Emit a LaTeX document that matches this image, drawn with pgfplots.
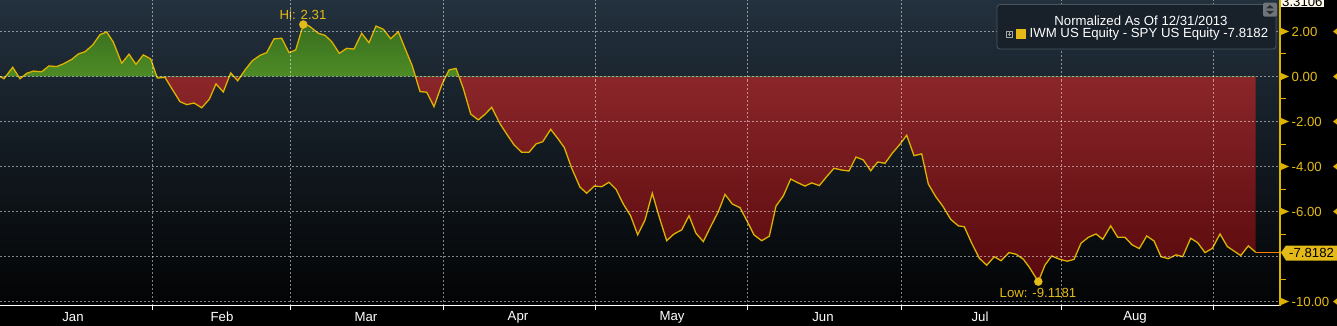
\documentclass[border=0pt]{standalone}
\usepackage{fontspec}
\setmainfont{Liberation Sans}
\usepackage{pgfplots}
\usepackage{pgfplotstable}
\pgfplotsset{compat=1.18}

\definecolor{gold}{RGB}{222,178,0}
\definecolor{lbl}{RGB}{228,186,24}
\definecolor{bgtop}{RGB}{35,49,62}
\definecolor{bgbot}{RGB}{2,3,4}
\definecolor{gtop}{RGB}{56,110,30}
\definecolor{gbot}{RGB}{78,140,38}
\definecolor{rtop}{RGB}{139,38,42}
\definecolor{rbot}{RGB}{88,9,12}
\definecolor{legbg}{RGB}{24,32,41}
\definecolor{legbd}{RGB}{75,85,95}
\definecolor{icon}{RGB}{110,116,122}
\definecolor{icondk}{RGB}{40,45,50}
\definecolor{cream}{RGB}{255,250,235}

% path bbox spans -9.1181 .. 2.31 -> mapped to 25bp .. 75bp; zero at 64.89bp
\pgfdeclareverticalshading{redgreen}{100bp}{color(0bp)=(rbot); color(25bp)=(rbot); color(64.86bp)=(rtop); color(64.92bp)=(gbot); color(75bp)=(gtop); color(100bp)=(gtop)}

\pgfplotstableread{
x y
0 0.0
4 -0.1
12.7 0.41
20 -0.1
26.7 0.14
33.3 0.24
41.7 0.21
49 0.47
56.7 0.44
63.3 0.56
71.7 0.76
78.3 1.0
85 1.1
92.7 1.4
100 1.86
106.7 1.98
113.3 1.53
121.7 0.59
129 0.99
136 0.54
143.3 0.96
150.7 0.78
157.3 -0.07
165 -0.04
172.7 -0.6
180 -1.12
186.7 -1.25
194 -1.18
201.7 -1.39
209.3 -1.01
216 -0.33
223.3 -0.69
230.7 0.16
237.7 -0.19
245 0.29
252.3 0.7
260 0.94
266.7 1.06
274 1.67
281.7 1.70
289 1.06
295.7 1.18
303.3 2.31
309.3 2.24
318.3 1.92
325 1.83
331.7 1.55
339.3 1.03
346.7 1.25
354 1.22
361.7 1.92
369 1.50
376 2.24
383.3 2.10
390.7 1.68
398.3 1.99
405 1.25
412.3 0.47
420 -0.67
426.7 -0.70
434 -1.34
441.7 -0.38
449 0.29
456 0.36
463.3 -0.53
470.7 -1.67
478.3 -1.93
485 -1.68
491.7 -1.37
500 -2.10
506.7 -2.56
514 -3.04
521.7 -3.37
529 -3.37
536 -3.00
542.7 -2.90
550.7 -2.35
557.7 -2.75
564.3 -3.16
571.7 -4.08
580 -4.92
586.7 -5.19
594.3 -4.87
601.7 -4.90
609 -4.70
616 -5.01
623.3 -5.67
630.7 -6.20
637.7 -7.04
645 -6.38
652.3 -5.19
659.3 -6.26
666.7 -7.30
674 -7.00
681.7 -6.82
689 -6.19
696 -6.97
703.3 -7.34
710.7 -6.67
718.3 -6.01
725 -5.24
732.3 -5.67
740 -5.83
747.3 -6.45
754 -7.04
761.7 -7.30
769.3 -7.10
776 -5.76
783.3 -5.31
790.7 -4.56
797.7 -4.72
805 -4.87
811.7 -4.73
819.3 -4.85
826.7 -4.45
834 -4.08
841.7 -4.16
849 -4.20
856 -3.58
863.3 -3.71
870.7 -4.19
877.7 -3.80
885 -3.86
892.3 -3.41
900 -3.01
906.7 -2.61
914 -3.52
921.7 -3.44
928.3 -4.78
935.7 -5.34
942.7 -5.76
950.7 -6.35
958.3 -6.64
964.3 -6.68
971.7 -7.41
979.3 -8.08
986.7 -8.39
994.3 -8.01
1001 -8.19
1009 -7.83
1016 -7.90
1023.3 -8.12
1029.3 -8.48
1038.3 -9.1181
1045 -8.38
1051.7 -7.98
1060 -8.13
1067.3 -8.21
1074 -8.13
1081 -7.41
1088.3 -7.15
1096 -7.00
1102.7 -7.24
1110.7 -6.64
1117.7 -7.15
1125 -7.15
1132.3 -7.49
1139.3 -7.65
1146.7 -7.09
1154 -7.31
1161 -8.01
1168.3 -8.10
1176 -7.93
1182.7 -8.01
1190.7 -7.19
1197.7 -7.39
1205 -7.83
1212.3 -7.64
1220 -7.00
1227.3 -7.56
1234 -7.76
1240.7 -7.96
1248.3 -7.53
1255.7 -7.8182
}\spread

\begin{document}
\fontsize{13.2}{15}\selectfont
\begin{tikzpicture}[x=1pt,y=1pt]
% black surround (outside the plot area only)
\fill[black] (1280,0) rectangle (1337,-326);
\fill[black] (0,-305.5) rectangle (1280,-326);
\begin{axis}[
  set layers,
  at={(0,0)}, anchor=north west,
  scale only axis, width=1280pt, height=305.5pt,
  xmin=0, xmax=1280, ymin=-10.18, ymax=3.4,
  axis x line*=bottom, axis y line*=right,
  x axis line style={white, line width=1.4pt},
  y axis line style={gold, line width=1.4pt},
  xtick={152,290,443,595,747,901,1061,1213}, xticklabels={},
  ytick={-10,-8,...,2}, yticklabels={},
  tick align=outside,
  xtick style={white, line width=1pt},
  major tick length=4pt,
  ytick style={draw=none},
  grid=major,
  major grid style={dash pattern=on 2pt off 2pt, white, opacity=0.5, line width=0.9pt},
  axis background/.style={top color=bgtop, bottom color=bgbot},
  axis on top,
]
\addplot[draw=none, shade, shading=redgreen, forget plot] table {\spread} \closedcycle;
\addplot[gold, line width=1.3pt] table {\spread};
\addplot[orange, line width=1.3pt] coordinates {(1255.7,-7.8182) (1280,-7.8182)};
\addplot[only marks, mark=*, mark size=4pt, lbl] coordinates {(303.3,2.31) (1038.3,-9.1181)};
\node[lbl] at (axis cs:303,2.31) [yshift=9.5pt] {Hi: 2.31};
\node[lbl] at (axis cs:1038,-9.1181) [yshift=-11.5pt] {Low: -9.1181};
% legend box, above the grid
\begin{pgfonlayer}{axis foreground}
\draw[rounded corners=3pt, fill=legbg, draw=legbd, line width=0.8pt] (axis cs:997,3.2) rectangle (axis cs:1276,1.2222);
\node[white, inner sep=0] at (axis cs:1141,2.4889) {Normalized As Of 12/31/2013};
\draw[gray!70, line width=0.5pt] (axis cs:1006,2.0222) rectangle (axis cs:1012.5,1.7333);
\draw[gray!70, line width=0.5pt] (axis cs:1007.5,1.8778) -- (axis cs:1011,1.8778) (axis cs:1009.25,1.9556) -- (axis cs:1009.25,1.8);
\fill[lbl] (axis cs:1015.7,2.0978) rectangle (axis cs:1026,1.6533);
\node[white, anchor=west, inner sep=0] at (axis cs:1029.5,1.8667) {IWM US Equity - SPY US Equity -7.8182};
\fill[icon, rounded corners=2pt] (axis cs:1263,3.28) rectangle (axis cs:1277,2.6578);
\fill[icondk] (axis cs:1266,3.0222) -- (axis cs:1274,3.0222) -- (axis cs:1270,3.1778) -- cycle;
\fill[icondk] (axis cs:1266,2.9156) -- (axis cs:1274,2.9156) -- (axis cs:1270,2.76) -- cycle;
\end{pgfonlayer}
\end{axis}

% month labels
\foreach \x/\m in {73/Jan,222/Feb,366/Mar,518/Apr,672/May,823/Jun,980/Jul,1135/Aug}
  \node[white, inner sep=0] at (\x,-317) {\m};

% right axis decorations
\foreach \y/\t in {31.5/2.00,76.5/0.00,121.5/-2.00,166.5/-4.00,211.5/-6.00,301.5/-10.00} {
  \fill[gold] (1281,-\y+3.5) -- (1289,-\y) -- (1281,-\y-3.5) -- cycle;
  \fill[gold] (1337.5,-\y+3.5) -- (1333,-\y) -- (1337.5,-\y-3.5) -- cycle;
  \node[lbl, anchor=west, inner sep=0] at (1291.5,-\y) {\t};
}
\foreach \y in {54,99,144,189,234,279}
  \draw[gold, line width=1pt] (1281,-\y) -- (1286,-\y);

% last value label
\fill[lbl] (1281,-252.5) -- (1286,-245.5) -- (1337,-245.5) -- (1337,-260.5) -- (1286,-260.5) -- cycle;
\node[black, anchor=west, inner sep=0] at (1289,-253) {-7.8182};
% top value label
\node[fill=cream, text=black, anchor=west, inner sep=1pt] at (1281,-1.5) {3.3106};

\pgfresetboundingbox
\path (0,-326) rectangle (1337,0);
\end{tikzpicture}
\end{document}
